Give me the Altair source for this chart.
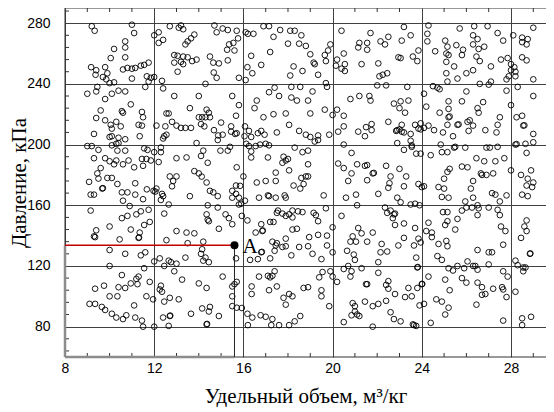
import altair as alt
import pandas as pd

# ---- data (specific volume m3/kg, pressure kPa) ----
region_1 = [(9.2,278),(9.33,275),(11.0,279),(11.1,273.5),(12.0,272),(12.2,274),(12.7,278),(13.1,277),(13.2,278.5),(13.3,276),(13.8,272.5),(13.65,270),(13.5,268),(13.4,266),(10.7,268),(10.7,264),(10.2,263),(12.4,269),(12.2,267),(12.9,259),(13.05,258.5),(13.3,258),(13.5,257.5),(13.7,255),(13.9,256),(12.9,254),(13.05,248),(13.2,254.5),(13.3,253),(10.05,257),(10.7,257.5),(9.17,251),(9.4,249),(9.37,246),(9.8,251),(9.9,247),(9.7,244.5),(9.85,243),(10.6,249.5),(10.8,250.5),(11.0,250),(11.15,250.5),(11.4,252),(11.55,252.5),(11.75,254),(11.0,243.5),(11.67,245),(11.85,244),(12.0,244.5),(11.75,241.5),(11.6,238),(10.0,240.5),(10.2,241),(12.35,242),(9.0,233.5),(9.4,235),(9.45,238),(9.8,230),(10.1,233.5),(10.4,235.5),(10.7,235),(12.4,237),(10.95,226.5),(12.9,232),(14.0,232),(9.6,222.5),(9.4,217.5),(9.8,216),(10.6,221),(10.55,222),(11.45,221.5),(11.5,218),(12.55,220.5),(12.65,220.5),(13.6,224),(14.0,218),(10.05,213),(10.1,210.5),(10.3,215),(10.5,212),(11.3,213),(11.45,212.5),(12.1,212.5),(12.5,212),(12.8,215),(13.0,212.5),(13.2,211),(13.4,211),(13.65,211),(9.3,207),(10.0,205),(10.1,205.5),(10.4,204.5),(10.7,203.5),(11.35,205.5),(12.45,205.5),(12.55,206.5),(12.4,204),(13.9,201),(9.0,199),(9.2,199),(9.5,196.5),(10.1,199.5),(10.3,200.5),(10.4,201),(10.35,196),(10.7,196),(11.55,197.5),(11.7,196.5),(12.0,195),(12.3,198),(12.3,195),(9.3,191),(9.8,191),(10.0,189),(10.2,187),(10.3,189.5),(10.6,187),(10.85,189.5),(11.1,185),(11.5,186),(11.45,190.5),(11.65,190.5),(11.85,189.5),(12.2,188.5),(13.0,191),(13.45,191.5),(9.6,184.5),(9.45,181),(13.8,182.5),(14.0,181),(12.7,179),(13.0,179)]

region_2 = [(14.7,278.5),(14.8,274),(15.07,276.5),(15.3,275.5),(15.7,275),(15.76,270),(15.55,267),(15.36,266),(15.6,262),(15.27,262.5),(16.1,274),(16.2,273),(16.45,273),(16.9,278),(17.15,278),(17.35,271),(17.65,275.5),(18.1,275),(18.3,275),(18.6,272),(18.0,266.5),(18.5,266.5),(18.8,265),(19.9,266),(19.8,262),(17.2,261),(16.35,258.5),(19.0,259.5),(19.15,254),(19.2,253),(19.65,259),(19.7,255),(14.5,258),(14.65,254),(14.9,253.5),(15.3,255.5),(16.8,252.5),(16.18,251),(16.4,247),(18.25,251.5),(18.65,248.5),(18.1,245.5),(19.35,246),(14.67,247.5),(14.8,244),(15.8,244),(16.1,242.5),(14.3,240),(19.7,240.5),(19.75,238),(15.5,232),(17.15,234.5),(17.4,237.5),(17.6,232),(18.15,238),(18.15,231),(18.4,229),(18.55,238),(18.9,229),(19.1,235),(16.6,229),(16.5,224),(15.8,226),(14.35,223),(14.45,221),(14.5,218),(14.3,218),(14.15,218),(14.1,213.5),(14.25,212),(15.67,219),(16.9,218),(17.35,220),(17.9,220.5),(19.0,220.5),(19.65,223),(20.0,219.5),(15.0,214.5),(15.45,212),(15.7,207.5),(15.45,208.5),(15.63,207),(14.68,209.5),(14.87,206),(15.07,206.5),(14.85,203),(16.07,212),(16.25,209),(16.05,205.5),(16.35,205),(16.65,207.5),(16.8,209),(16.95,206.5),(17.5,208),(18.05,213),(18.5,209),(18.8,206.5),(19.0,205),(19.2,202),(19.35,203),(19.35,206),(19.85,206.5),(14.2,196),(14.97,196),(15.3,196),(15.4,198.5),(14.1,192.5),(14.4,188),(16.13,200.5),(16.25,199),(16.55,199),(16.75,200),(17.0,200.5),(17.15,199.5),(16.35,195.5),(16.35,191.5),(17.1,191.5),(17.8,192),(17.9,189.5),(17.75,188),(18.0,190.5),(18.3,198),(18.65,195),(18.9,196),(17.45,181.5),(18.05,183),(18.9,187),(15.7,185)]

region_3 = [(20.4,275),(21.7,273.5),(21.2,267),(21.15,264),(21.55,267),(21.55,262.5),(22.15,268),(22.35,266),(22.5,271),(23.1,268.5),(23.5,272),(23.2,277.5),(23.85,262),(20.5,260),(20.2,256),(20.15,252),(20.4,250),(20.55,248.5),(20.55,253),(21.3,253),(22.05,253.5),(22.95,257.5),(23.05,257),(23.6,258),(23.8,255),(22.1,245),(22.25,246),(22.45,247),(22.0,239),(22.4,239),(23.35,238),(24.3,278.5),(24.25,273),(24.25,268),(24.6,261.5),(25.05,268.5),(25.15,264.5),(25.1,260),(25.2,259),(25.1,254.5),(25.55,265.5),(25.85,262.5),(25.8,259),(25.7,276.5),(25.1,247),(25.45,251.5),(26.0,247),(25.6,243.5),(25.15,241.5),(24.5,238.5),(24.7,237.5),(24.8,236.5),(24.1,233.5),(20.8,230),(21.2,232),(21.65,232),(21.7,229),(22.75,227),(23.05,228.5),(23.4,229),(23.0,224),(23.25,221),(24.2,225),(24.8,221),(25.2,223.5),(25.2,228.5),(25.8,228.5),(26.0,235),(25.2,218),(25.25,218.5),(25.15,213),(25.6,213),(25.65,213.3),(20.2,223),(20.5,219),(20.5,212),(20.25,208.5),(21.15,208.5),(21.45,205.5),(21.5,211.5),(21.75,209.5),(21.75,213.5),(22.5,215),(22.85,209),(22.9,209.5),(23.0,210),(23.1,213),(23.1,208.5),(23.2,208),(23.7,213),(23.95,214),(23.85,210.5),(23.95,210),(24.1,211),(24.3,212.5),(23.5,207),(23.5,202.5),(24.55,209.5),(24.95,208),(26.05,215),(25.4,205.5),(25.5,198.5),(25.95,198),(20.5,200),(20.85,194.5),(22.9,201),(23.2,196.5),(23.55,199.5),(23.55,198.5),(23.75,194),(23.95,194),(24.4,193),(24.85,200),(24.9,195),(25.15,195),(25.45,198),(20.25,187.5),(20.5,184.5),(20.85,181),(21.1,187),(21.45,186),(21.55,186.5),(21.8,181),(21.85,181.3),(22.4,186),(22.6,179),(23.0,184),(23.3,179),(25.15,182),(25.25,184),(25.8,185.5),(26.05,185)]

region_4 = [(26.35,278),(26.95,278),(26.3,272),(26.5,269.5),(26.3,266),(26.55,263),(26.8,264.5),(27.4,273.5),(27.65,268.5),(28.1,272),(28.5,270.5),(28.75,269.5),(28.5,267.5),(28.7,266),(29.0,277),(26.45,258),(26.6,255),(27.1,251.5),(27.55,256),(27.85,257),(28.0,253),(28.0,249),(28.15,251),(28.2,248),(28.5,257.5),(28.7,255.5),(26.3,249),(28.2,245),(29.0,243),(27.8,243),(27.9,245),(26.6,240),(27.0,239.5),(27.1,241.5),(27.8,235.5),(28.3,238),(29.0,232),(26.75,228),(26.5,224),(26.55,221),(28.0,226),(28.25,218),(28.5,219),(27.5,218),(27.4,213),(27.35,208),(26.15,216),(26.3,212.5),(26.1,209),(26.85,209.5),(28.55,212.5),(28.6,212.7),(29.0,207),(29.0,201.5),(26.9,198),(27.05,198),(27.4,198.5),(28.2,200),(28.25,200.3),(28.65,200.5),(28.7,194.5),(26.45,191),(26.8,189),(27.3,189),(27.7,191),(26.65,181),(26.7,180),(26.9,180),(27.2,181),(28.0,183),(28.45,180),(28.9,183)]

region_5 = [(9.08,175.4),(9.5,177.6),(9.9,178),(10.1,178),(10.35,174),(10.55,168.5),(10.8,168.5),(10.6,163),(11.15,174.5),(11.15,167),(11.5,164),(11.67,170.5),(9.67,171),(9.7,171.3),(9.15,167),(9.3,167),(12.85,176),(12.8,172.5),(11.97,169.5),(12.05,169),(12.1,171),(12.35,167.5),(12.3,163.5),(12.4,166),(12.65,160.5),(13.6,166),(9.15,156.5),(10.9,159.5),(10.55,151.5),(10.8,153),(11.2,154),(11.4,156),(11.75,157),(12.45,154.5),(11.55,147),(11.8,149),(10.0,146),(9.4,143.5),(9.3,139.5),(9.35,139),(10.95,144),(11.35,142),(11.3,138.5),(11.32,138.8),(10.45,137.5),(13.0,143),(13.45,142),(13.8,141.5),(12.55,137),(13.5,135),(10.0,130.5),(10.7,128),(11.4,127),(11.6,129),(12.0,123),(12.25,125),(12.65,123.5),(12.75,122.5),(13.0,121.5),(13.4,125.5),(12.45,120),(10.0,120),(11.55,118.5),(12.9,116.5),(13.25,111),(10.55,114),(11.3,113),(11.2,111.5),(11.25,108),(10.95,108.5),(10.7,105.5),(11.8,109.5),(12.3,107),(12.25,104.5),(12.35,103),(9.35,105),(9.75,107),(10.4,106),(10.35,100),(10.0,100),(11.65,100),(11.95,98),(12.45,96.5),(12.7,99),(13.1,98),(9.1,95),(9.35,95),(9.65,93),(9.8,91),(10.1,88.5),(10.3,86),(10.6,85),(10.75,87.5),(11.1,94),(11.15,86),(11.45,84),(11.5,80),(12.0,80),(12.4,86),(12.7,87),(12.72,87.3),(12.65,80.5),(13.65,88.5),(14.0,108.5)]

region_6 = [(14.13,178.9),(14.35,175),(14.5,169.5),(14.65,168.5),(14.85,166),(15.5,169.5),(15.67,173),(15.85,172.8),(15.5,165),(15.67,167.5),(15.8,165),(15.9,161),(15.8,160.5),(16.0,179),(16.07,163),(16.6,175),(17.0,176),(17.45,176),(16.7,165),(17.1,166.5),(17.15,166),(17.45,165),(17.85,166.5),(17.9,165),(18.25,173),(18.6,178),(18.8,179),(18.9,179),(18.7,174),(18.55,171),(19.6,166.5),(14.4,160),(14.85,158.5),(14.4,150.5),(14.45,149.5),(14.9,144.5),(14.35,154),(15.2,154),(15.35,151.5),(15.5,147.5),(15.93,153),(16.18,150),(16.8,147.5),(16.85,143),(16.55,142),(16.87,143.4),(17.2,149),(17.55,156.5),(17.5,155),(17.75,154.5),(17.9,153),(18.05,154),(18.2,152),(18.2,156.5),(18.45,156),(18.65,155.5),(17.35,149),(18.2,144),(18.4,144.5),(19.15,155),(19.25,153.5),(19.35,149.5),(19.7,158),(20.0,145.5),(19.75,140),(18.95,139),(19.35,140.5),(17.3,136),(17.45,133.5),(17.5,135),(17.4,130),(17.75,132.5),(17.9,138),(17.9,133),(16.8,129),(16.83,129.3),(16.3,124),(16.65,124.5),(17.2,125),(18.15,127),(18.5,132.5),(18.9,133),(19.1,128),(19.5,124.5),(19.75,133.5),(20.0,129),(14.2,136),(14.15,131),(14.1,128),(14.3,125.5),(14.45,122.5),(14.2,123.5),(15.67,125),(15.07,113),(14.35,105.5),(15.5,106.5),(15.6,108),(15.7,109.5),(15.5,100),(15.5,93.5),(15.7,92.5),(15.93,92.3),(16.18,88.5),(16.4,86),(16.2,81),(16.37,106.5),(16.37,101.5),(16.7,113),(17.1,113.5),(17.2,112.5),(17.3,113.5),(17.4,116.5),(17.15,104),(17.5,106.5),(16.77,87.5),(17.0,86.5),(17.3,85),(17.25,81),(17.6,81),(17.8,99),(18.05,101.5),(18.2,100),(17.9,94.5),(18.05,81),(18.3,83.5),(18.55,87),(18.7,105.5),(18.9,106),(19.4,112.5),(19.55,116),(19.5,104),(19.5,100),(19.85,93.5),(19.9,116.5),(20.0,113),(14.15,92),(14.5,93),(14.45,90),(14.9,87),(14.35,81.5),(14.37,81.8)]

region_7 = [(20.7,176),(21.55,176.5),(22.05,167.5),(22.5,171.5),(22.55,174.5),(23.2,172.5),(23.85,174),(24.0,172),(24.1,172.5),(24.75,172),(25.0,171),(24.9,165.5),(25.2,165),(25.0,177.5),(20.6,165),(21.05,167),(21.1,160),(22.9,165),(23.05,162),(22.35,158.5),(22.45,155),(22.6,156.5),(22.75,154),(22.7,151.5),(22.8,154.5),(23.5,160.5),(23.7,161),(23.9,160),(24.95,155.5),(25.15,155.5),(25.15,149.5),(25.05,147),(25.6,151),(25.8,156.5),(25.95,162.5),(26.0,158.5),(20.4,153),(21.15,145),(21.3,141.5),(20.9,139.5),(20.8,136),(20.65,130),(21.05,136),(21.55,136),(21.8,142),(22.8,147),(23.2,148),(23.7,145),(24.3,148.5),(24.2,143),(24.45,142),(24.45,139),(23.2,138.5),(22.95,133.5),(23.65,133.5),(23.85,138),(23.95,135.5),(22.2,134.5),(22.15,129),(22.45,129.5),(24.75,134.5),(25.1,136.5),(25.15,133),(25.5,144),(20.95,127.5),(21.0,124),(21.3,118.5),(22.05,122.5),(23.75,125.5),(23.8,119),(23.82,119.3),(24.7,126.5),(24.9,124),(20.5,118),(20.7,120),(20.85,116.5),(20.8,113),(20.2,109.5),(22.05,115.5),(21.5,108),(21.55,108),(22.4,107.5),(22.5,105),(22.5,110),(22.8,101.5),(23.4,105.5),(23.55,100),(23.25,99.5),(23.8,105.5),(24.0,108),(24.02,108.2),(24.3,113),(23.9,94),(24.1,95),(20.9,95.5),(21.0,93.5),(21.0,90),(21.2,87),(21.45,96.5),(21.1,88),(20.85,87.5),(21.8,93.5),(22.05,95),(22.4,97),(22.6,89.5),(22.75,85),(23.05,83.5),(20.5,83),(21.8,80),(23.6,81.5),(23.65,81),(23.75,80.5),(24.4,82.5),(24.65,98),(24.9,96.5),(25.2,92.5),(25.05,88),(25.2,118.5),(25.4,117),(25.25,104),(25.05,111),(25.6,120),(25.8,112),(26.0,109),(26.05,123),(25.9,118.5)]

region_8 = [(26.3,176),(26.2,171),(28.75,177.5),(29.0,175),(28.95,172),(28.7,173),(27.15,168),(27.3,167),(27.8,166.5),(27.5,162.5),(28.5,167),(28.75,166),(26.3,165),(26.25,158.5),(26.5,160),(26.55,158),(26.5,153.5),(27.0,158.5),(27.4,157),(27.5,153.5),(27.55,146),(27.75,143),(28.7,150),(28.6,146),(28.7,143),(28.45,138.5),(27.65,134),(26.5,130.5),(27.0,129),(27.15,129),(28.85,128),(28.87,128.3),(26.3,120),(26.4,120),(26.5,117.5),(27.0,121),(28.2,123.5),(28.3,120.5),(28.55,119),(28.65,119),(28.55,116.5),(27.65,116.5),(27.85,113),(26.5,109),(26.7,106),(26.7,101),(26.85,101.5),(27.2,105),(27.6,106),(27.65,104.5),(27.8,99.5),(28.2,103),(26.45,94.5),(27.65,84),(28.5,85.5),(28.9,86.5),(28.5,81)]

x_ticks = [8, 12, 16, 20, 24, 28]
y_ticks = [80, 120, 160, 200, 240, 280]
x_minor = [9, 10, 11, 13, 14, 15, 17, 18, 19, 21, 22, 23, 25, 26, 27, 29]
y_minor = [64, 72, 88, 96, 104, 112, 128, 136, 144, 152, 168, 176, 184, 192,
           208, 216, 224, 232, 248, 256, 264, 272, 288]
x_domain = [8, 29.57]
y_domain = [60, 290]
point_a = {"v": 15.6, "p": 133.6, "label": "A"}

W, H = 481, 349
SANS = "Liberation Sans Narrow, Liberation Sans, Arial"
SERIF = "Liberation Serif, Times New Roman, serif"
FRAME = "#333333"

samples = (region_1 + region_2 + region_3 + region_4 +
           region_5 + region_6 + region_7 + region_8)
df = pd.DataFrame(samples, columns=["v", "p"])

xs = alt.Scale(domain=x_domain, nice=False, zero=False)
ys = alt.Scale(domain=y_domain, nice=False, zero=False)

x_axis = alt.Axis(values=x_ticks, grid=True, ticks=False, domain=False,
                  gridColor="#404040", gridWidth=1, gridOpacity=1,
                  labelFont=SANS, labelFontSize=14, labelColor="black",
                  labelPadding=4, labelFlush=False,
                  title="Удельный объем, м³/кг", titleFont=SERIF,
                  titleFontSize=21, titleFontWeight="normal",
                  titleColor="black", titlePadding=10)
y_axis = alt.Axis(values=y_ticks, grid=True, ticks=False, domain=False,
                  gridColor="#404040", gridWidth=1, gridOpacity=1,
                  labelFont=SANS, labelFontSize=14, labelColor="black",
                  labelPadding=15, labelFlush=False,
                  title="Давление,  кПа", titleFont=SERIF,
                  titleFontSize=21, titleFontWeight="normal",
                  titleColor="black", titleX=-40, titleBaseline="alphabetic")

scatter = alt.Chart(df).mark_point(
    shape="circle", filled=False, size=32, strokeWidth=0.9,
    color="#000000", opacity=1
).encode(
    x=alt.X("v:Q", scale=xs, axis=x_axis),
    y=alt.Y("p:Q", scale=ys, axis=y_axis),
)

# frame: top, left and bottom borders (the right side runs off the page)
frame_df = pd.DataFrame({"side": ["top", "bottom", "left"]})
frame_top = alt.Chart(frame_df).transform_filter("datum.side == 'top'").mark_rule(
    color=FRAME, strokeWidth=1).encode(x=alt.value(0), x2=alt.value(W), y=alt.value(0))
frame_bottom = alt.Chart(frame_df).transform_filter("datum.side == 'bottom'").mark_rule(
    color=FRAME, strokeWidth=1).encode(x=alt.value(0), x2=alt.value(W), y=alt.value(H))
frame_left = alt.Chart(frame_df).transform_filter("datum.side == 'left'").mark_rule(
    color=FRAME, strokeWidth=1).encode(x=alt.value(0), y=alt.value(0), y2=alt.value(H))

xm = pd.DataFrame({"v": x_minor})
ym = pd.DataFrame({"p": y_minor})
tick_bottom = alt.Chart(xm).mark_rule(color=FRAME, strokeWidth=1).encode(
    x=alt.X("v:Q", scale=xs), y=alt.value(H), y2=alt.value(H - 4))
tick_top = alt.Chart(xm).mark_rule(color=FRAME, strokeWidth=1).encode(
    x=alt.X("v:Q", scale=xs), y=alt.value(0), y2=alt.value(4))
tick_left = alt.Chart(ym).mark_rule(color=FRAME, strokeWidth=1).encode(
    y=alt.Y("p:Q", scale=ys), x=alt.value(0), x2=alt.value(4))

pa = pd.DataFrame([{**point_a, "v0": x_domain[0], "p0": y_domain[0]}])
base_a = alt.Chart(pa)
left_side = base_a.mark_rule(color="#8c8c8c", strokeWidth=2.5).encode(
    x=alt.X("v0:Q", scale=xs), y=alt.Y("p0:Q", scale=ys), y2="p:Q")
bottom_side = base_a.mark_rule(color="#8c8c8c", strokeWidth=2.5).encode(
    x=alt.X("v0:Q", scale=xs), x2="v:Q", y=alt.Y("p0:Q", scale=ys))
right_side = base_a.mark_rule(color="#222222", strokeWidth=1).encode(
    x=alt.X("v:Q", scale=xs), y=alt.Y("p0:Q", scale=ys), y2="p:Q")
red_line = base_a.mark_rule(color="#c00000", strokeWidth=1.6).encode(
    x=alt.X("v0:Q", scale=xs), x2="v:Q", y=alt.Y("p:Q", scale=ys))
dot_a = base_a.mark_circle(size=64, color="black", opacity=1).encode(
    x=alt.X("v:Q", scale=xs), y=alt.Y("p:Q", scale=ys))
text_a = base_a.mark_text(font=SERIF, fontSize=21, align="left",
                          baseline="alphabetic", dx=8, dy=8,
                          color="black").encode(
    x=alt.X("v:Q", scale=xs), y=alt.Y("p:Q", scale=ys), text="label:N")

chart = alt.layer(
    scatter, frame_top, frame_bottom, frame_left,
    tick_bottom, tick_top, tick_left,
    left_side, bottom_side, right_side, red_line, dot_a, text_a
).properties(
    width=W, height=H,
    autosize=alt.AutoSizeParams(type="none"),
    padding={"left": 57, "top": 0, "right": 0, "bottom": 50},
    background="white",
).configure_view(strokeWidth=0)

chart.save("out.html", embed_options={"renderer": "svg", "actions": False})
